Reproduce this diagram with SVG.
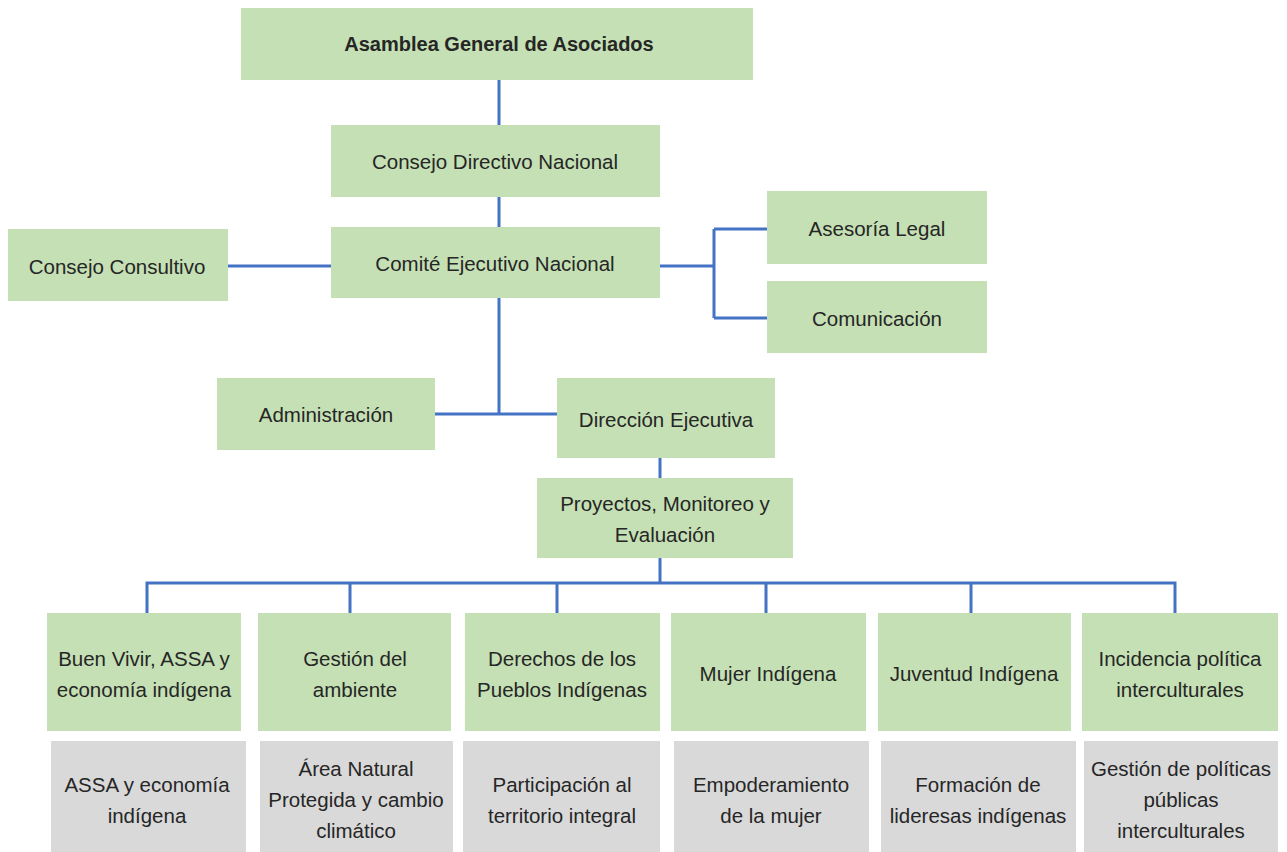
<svg xmlns="http://www.w3.org/2000/svg" width="1287" height="852" viewBox="0 0 1287 852">
<style>
.g{fill:#C5E0B4}
.s{fill:#D9D9D9}
text{font-family:"Liberation Sans",Arial,sans-serif;font-size:20.5px;fill:#262626;text-anchor:middle;dominant-baseline:central}
.b{font-weight:bold;font-size:20px}
.c{stroke:#4472C4;stroke-width:3;fill:none}
</style>
<rect width="1287" height="852" fill="#fff"/>
<g id="connectors" class="c">
<path d="M499 80V125M499 197V227M499 298V414M435 414H557"/>
<path d="M228 266H331"/>
<path d="M660 266H714M714 229V318M714 229H767M714 318H767"/>
<path d="M660 458V478M660 558V583"/>
<path d="M147 613V583H1175V613M350 583V613M557 583V613M766 583V613M971 583V613"/>
</g>
<g id="asamblea"><rect class="g" x="241" y="8" width="512" height="72"/><text class="b" x="499" y="44">Asamblea General de Asociados</text></g>
<g id="consejo-directivo"><rect class="g" x="331" y="125" width="329" height="72"/><text x="495" y="161">Consejo Directivo Nacional</text></g>
<g id="comite"><rect class="g" x="331" y="227" width="329" height="71"/><text x="495" y="263">Comité Ejecutivo Nacional</text></g>
<g id="consejo-consultivo"><rect class="g" x="8" y="229" width="220" height="72"/><text x="117" y="266">Consejo Consultivo</text></g>
<g id="asesoria"><rect class="g" x="767" y="191" width="220" height="73"/><text x="877" y="228">Asesoría Legal</text></g>
<g id="comunicacion"><rect class="g" x="767" y="281" width="220" height="72"/><text x="877" y="318">Comunicación</text></g>
<g id="administracion"><rect class="g" x="217" y="378" width="218" height="72"/><text x="326" y="414">Administración</text></g>
<g id="direccion"><rect class="g" x="557" y="378" width="218" height="80"/><text x="666" y="419">Dirección Ejecutiva</text></g>
<g id="proyectos"><rect class="g" x="537" y="478" width="256" height="80"/><text x="665" y="503">Proyectos, Monitoreo y</text><text x="665" y="534">Evaluación</text></g>
<g id="buen-vivir"><rect class="g" x="47" y="613" width="194" height="118"/><text x="144" y="658">Buen Vivir, ASSA y</text><text x="144" y="689">economía indígena</text></g>
<g id="gestion-ambiente"><rect class="g" x="258" y="613" width="193" height="118"/><text x="355" y="658">Gestión del</text><text x="355" y="689">ambiente</text></g>
<g id="derechos"><rect class="g" x="465" y="613" width="195" height="118"/><text x="562" y="658">Derechos de los</text><text x="562" y="689">Pueblos Indígenas</text></g>
<g id="mujer"><rect class="g" x="671" y="613" width="195" height="118"/><text x="768" y="673">Mujer Indígena</text></g>
<g id="juventud"><rect class="g" x="878" y="613" width="193" height="118"/><text x="974" y="673">Juventud Indígena</text></g>
<g id="incidencia"><rect class="g" x="1082" y="613" width="196" height="118"/><text x="1180" y="658">Incidencia política</text><text x="1180" y="689">interculturales</text></g>
<g id="assa"><rect class="s" x="51" y="741" width="195" height="111"/><text x="147" y="784">ASSA y economía</text><text x="147" y="815">indígena</text></g>
<g id="area-natural"><rect class="s" x="260" y="741" width="193" height="111"/><text x="356" y="768">Área Natural</text><text x="356" y="799">Protegida y cambio</text><text x="356" y="830">climático</text></g>
<g id="participacion"><rect class="s" x="463" y="741" width="197" height="111"/><text x="562" y="784">Participación al</text><text x="562" y="815">territorio integral</text></g>
<g id="empoderamiento"><rect class="s" x="674" y="741" width="195" height="111"/><text x="771" y="784">Empoderamiento</text><text x="771" y="815">de la mujer</text></g>
<g id="formacion"><rect class="s" x="881" y="741" width="195" height="111"/><text x="978" y="784">Formación de</text><text x="978" y="815">lideresas indígenas</text></g>
<g id="gestion-politicas"><rect class="s" x="1084" y="741" width="194" height="111"/><text x="1181" y="768">Gestión de políticas</text><text x="1181" y="799">públicas</text><text x="1181" y="830">interculturales</text></g>
</svg>
